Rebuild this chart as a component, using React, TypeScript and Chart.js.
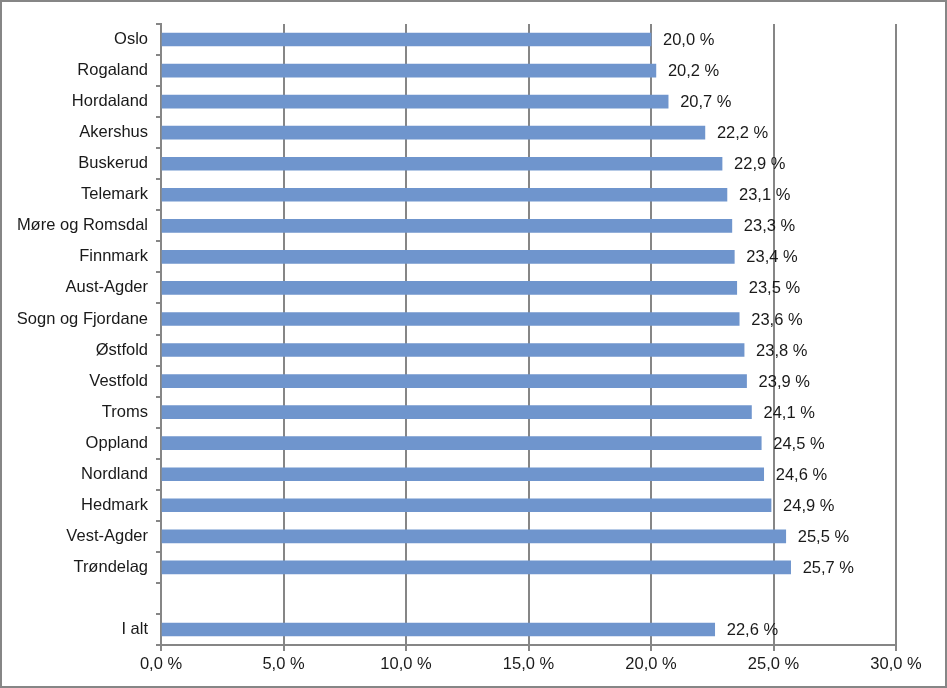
import React, { useEffect, useRef } from "react";
import { Chart, registerables } from "chart.js";

Chart.register(...registerables);

const categories = [
  "Oslo", "Rogaland", "Hordaland", "Akershus", "Buskerud", "Telemark",
  "Møre og Romsdal", "Finnmark", "Aust-Agder", "Sogn og Fjordane", "Østfold",
  "Vestfold", "Troms", "Oppland", "Nordland", "Hedmark", "Vest-Agder",
  "Trøndelag", "", "I alt",
];
const values: (number | null)[] = [
  20.0, 20.2, 20.7, 22.2, 22.9, 23.1, 23.3, 23.4, 23.5, 23.6, 23.8, 23.9,
  24.1, 24.5, 24.6, 24.9, 25.5, 25.7, null, 22.6,
];
const xTicks = [0, 5, 10, 15, 20, 25, 30];

const fmt = (v: number) => v.toFixed(1).replace(".", ",") + " %";
const FONT = "'Liberation Sans', Arial, sans-serif";
const GRID = "#868686";
const FS = 16.5;

const labelPlugin = {
  id: "barLabels",
  afterDatasetsDraw(chart: any) {
    const ctx = chart.ctx;
    const meta = chart.getDatasetMeta(0);
    ctx.save();
    ctx.font = `${FS}px ${FONT}`;
    ctx.fillStyle = "#1a1a1a";
    ctx.textAlign = "left";
    ctx.textBaseline = "middle";
    meta.data.forEach((bar: any, i: number) => {
      const v = values[i];
      if (v == null) return;
      ctx.fillText(fmt(v), bar.x + 12, bar.y + 1);
    });
    ctx.restore();
  },
  afterDraw(chart: any) {
    const ctx = chart.ctx;
    ctx.save();
    ctx.strokeStyle = GRID;
    ctx.lineWidth = 2;
    ctx.strokeRect(1, 1, chart.width - 2, chart.height - 2);
    ctx.restore();
  },
};

export default function App() {
  const ref = useRef<HTMLCanvasElement>(null);
  useEffect(() => {
    document.body.style.margin = "0";
    const chart = new Chart(ref.current!, {
      type: "bar",
      data: {
        labels: categories,
        datasets: [
          {
            data: values,
            backgroundColor: "#6F95CD",
            barThickness: 13,
          },
        ],
      },
      options: {
        indexAxis: "y",
        animation: false,
        responsive: false,
        maintainAspectRatio: false,
        layout: { padding: { top: 24, right: 51, left: 0, bottom: 0 } },
        plugins: { legend: { display: false }, tooltip: { enabled: false } },
        scales: {
          x: {
            min: 0,
            max: 30,
            afterBuildTicks: (s: any) => {
              s.ticks = xTicks.map((v) => ({ value: v }));
            },
            afterFit: (s: any) => {
              s.height = 43;
            },
            ticks: {
              callback: (v: any) => fmt(Number(v)),
              font: { family: FONT, size: FS },
              color: "#1a1a1a",
              padding: 4,
              maxRotation: 0,
            },
            grid: { color: GRID, lineWidth: 2, tickLength: 6, drawTicks: true },
            border: { color: GRID, width: 2 },
          },
          y: {
            afterFit: (s: any) => {
              s.width = 161;
            },
            ticks: {
              font: { family: FONT, size: FS },
              color: "#1a1a1a",
              padding: 8,
              autoSkip: false,
            },
            grid: {
              drawOnChartArea: false,
              drawTicks: true,
              tickLength: 5,
              color: GRID,
              lineWidth: 2,
              offset: true,
            },
            border: { color: GRID, width: 2 },
          },
        },
      },
      plugins: [labelPlugin],
    });
    return () => chart.destroy();
  }, []);
  return <canvas ref={ref} width={947} height={688} style={{ display: "block" }} />;
}
